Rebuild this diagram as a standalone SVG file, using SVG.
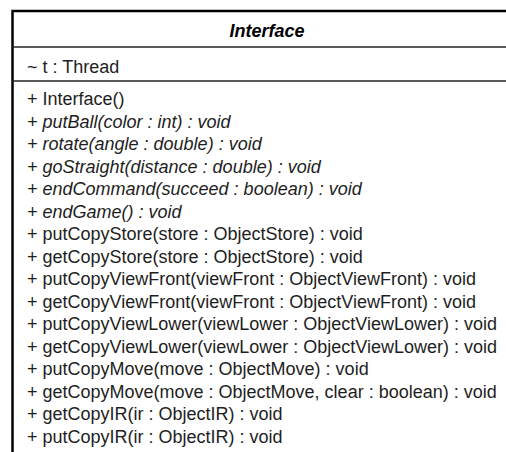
<svg xmlns="http://www.w3.org/2000/svg" width="506" height="452" viewBox="0 0 506 452">
  <style>
    .frame { fill: #ffffff; stroke: #000000; stroke-width: 2.5; }
    .divider { stroke: #222222; stroke-width: 1.5; }
    .title { font-family: "Liberation Sans", Arial, sans-serif; font-size: 18px; font-weight: bold; font-style: italic; fill: #000000; text-anchor: middle; }
    .member { font-family: "Liberation Sans", Arial, sans-serif; font-size: 18px; fill: #1e1e1e; }
    .abstract { font-style: italic; }
  </style>
  <rect x="0" y="0" width="506" height="452" fill="#ffffff"/>
  <!-- class box: Interface -->
  <g id="Interface">
    <rect class="frame" x="12.5" y="11" width="510" height="470"/>
    <text class="title" x="267" y="37">Interface</text>
    <line class="divider" x1="12" y1="47" x2="522" y2="47"/>
    <text class="member" x="27" y="72.5">~ t : Thread</text>
    <line class="divider" x1="12" y1="81" x2="522" y2="81"/>
    <text class="member" x="27" y="105">+ Interface()</text>
    <text class="member abstract" x="27" y="127.5">+ putBall(color : int) : void</text>
    <text class="member abstract" x="27" y="150">+ rotate(angle : double) : void</text>
    <text class="member abstract" x="27" y="172.5">+ goStraight(distance : double) : void</text>
    <text class="member abstract" x="27" y="195">+ endCommand(succeed : boolean) : void</text>
    <text class="member abstract" x="27" y="217.5">+ endGame() : void</text>
    <text class="member" x="27" y="240">+ putCopyStore(store : ObjectStore) : void</text>
    <text class="member" x="27" y="262.5">+ getCopyStore(store : ObjectStore) : void</text>
    <text class="member" x="27" y="285">+ putCopyViewFront(viewFront : ObjectViewFront) : void</text>
    <text class="member" x="27" y="307.5">+ getCopyViewFront(viewFront : ObjectViewFront) : void</text>
    <text class="member" x="27" y="330">+ putCopyViewLower(viewLower : ObjectViewLower) : void</text>
    <text class="member" x="27" y="352.5">+ getCopyViewLower(viewLower : ObjectViewLower) : void</text>
    <text class="member" x="27" y="375">+ putCopyMove(move : ObjectMove) : void</text>
    <text class="member" x="27" y="397.5">+ getCopyMove(move : ObjectMove, clear : boolean) : void</text>
    <text class="member" x="27" y="420">+ getCopyIR(ir : ObjectIR) : void</text>
    <text class="member" x="27" y="442.5">+ putCopyIR(ir : ObjectIR) : void</text>
  </g>
</svg>
